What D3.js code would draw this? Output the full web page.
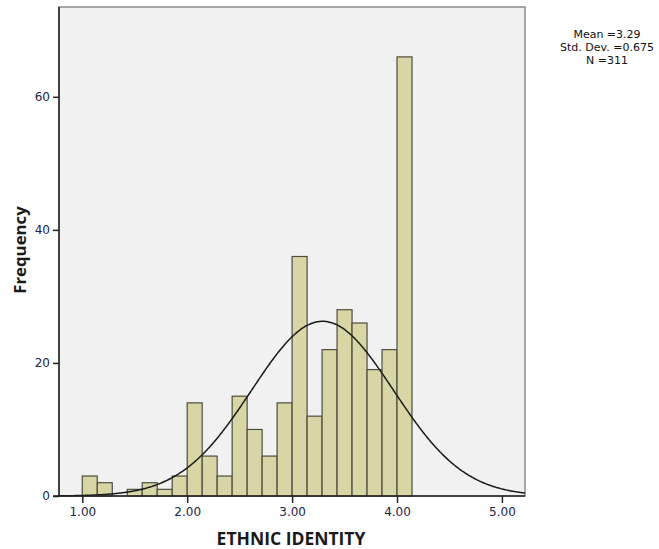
<!DOCTYPE html>
<html>
<head>
<meta charset="utf-8">
<script src="https://cdn.jsdelivr.net/npm/d3@7"></script>
<style>
  body { margin: 0; background: #fff; }
  svg { display: block; font-family: "DejaVu Sans", sans-serif; }
</style>
</head>
<body>
<div id="chartArea"></div>
<script>
// histogram bins: lower edges, width 1/7
let binStart = 1.0
let binWidth = 1 / 7
let counts = [3, 2, 0, 1, 2, 1, 3, 14, 6, 3, 15, 10, 6, 14, 36, 12, 22, 28, 26, 19, 22, 66]
let xTicks = [1, 2, 3, 4, 5]
let yTicks = [0, 20, 40, 60]
let mean = 3.29
let sd = 0.675
let n = 311
let statLines = ['Mean =3.29', 'Std. Dev. =0.675', 'N =311']

let bins = counts.map((c, i) => ({ x0: binStart + i * binWidth, x1: binStart + (i + 1) * binWidth, count: c }))

let svgWidth = 659
let svgHeight = 549
let plot = { left: 59, top: 7, right: 525, bottom: 496 }

let xScale = d3.scaleLinear()
  .domain([0.778, 5.22])
  .range([plot.left, plot.right])

let yScale = d3.scaleLinear()
  .domain([0, 73.5])
  .range([plot.bottom, plot.top])

let svg = d3.select('#chartArea')
  .append('svg')
  .attr('width', svgWidth)
  .attr('height', svgHeight)

// plot background
svg.append('rect')
  .attr('x', plot.left)
  .attr('y', plot.top)
  .attr('width', plot.right - plot.left)
  .attr('height', plot.bottom - plot.top)
  .attr('fill', '#f1f1f1')
  .attr('stroke', '#8a8a8a')
  .attr('stroke-width', 1.5)

// bars
svg.selectAll('rect.bar')
  .data(bins)
  .enter()
  .append('rect')
  .attr('class', 'bar')
  .attr('x', d => xScale(d.x0))
  .attr('y', d => yScale(d.count))
  .attr('width', d => xScale(d.x1) - xScale(d.x0))
  .attr('height', d => yScale(0) - yScale(d.count))
  .attr('fill', '#d9d6a6')
  .attr('stroke', '#4d4d40')
  .attr('stroke-width', 1.2)

// normal curve fitted to the data
let pdf = x => n * binWidth / (sd * Math.sqrt(2 * Math.PI)) * Math.exp(-0.5 * ((x - mean) / sd) ** 2)
let curveX = d3.range(0.778, 5.22, 0.01).concat([5.22])
let line = d3.line()
  .x(d => xScale(d))
  .y(d => yScale(pdf(d)))
  .curve(d3.curveBasis)

svg.append('path')
  .datum(curveX)
  .attr('d', line)
  .attr('fill', 'none')
  .attr('stroke', '#1a1a1a')
  .attr('stroke-width', 1.5)

// axes
let xAxis = svg.append('g')
  .attr('transform', `translate(0,${plot.bottom})`)
  .call(d3.axisBottom(xScale).tickValues(xTicks).tickFormat(d3.format('.2f')).tickSize(7).tickPadding(4))
let yAxis = svg.append('g')
  .attr('transform', `translate(${plot.left},0)`)
  .call(d3.axisLeft(yScale).tickValues(yTicks).tickSize(6).tickPadding(3))

for (let ax of [xAxis, yAxis]) {
  ax.select('.domain').remove()
  ax.selectAll('line').attr('stroke', '#222').attr('stroke-width', 1.5)
  ax.selectAll('text').attr('fill', '#1c2546').style('font-size', '12px').style('font-family', '"DejaVu Sans", sans-serif')
}

// axis lines (left + bottom darker)
svg.append('line')
  .attr('x1', plot.left).attr('x2', plot.left)
  .attr('y1', plot.top).attr('y2', plot.bottom)
  .attr('stroke', '#222').attr('stroke-width', 1.5)
svg.append('line')
  .attr('x1', plot.left - 6).attr('x2', plot.right)
  .attr('y1', plot.bottom).attr('y2', plot.bottom)
  .attr('stroke', '#222').attr('stroke-width', 1.5)

// axis titles
svg.append('text')
  .attr('x', 291)
  .attr('y', 545)
  .attr('text-anchor', 'middle')
  .style('font-family', '"Open Sans", sans-serif')
  .style('font-size', '17.5px')
  .style('font-weight', 'bold')
  .attr('fill', '#1a1a1a')
  .text('ETHNIC IDENTITY')

svg.append('text')
  .attr('transform', 'translate(26,250) rotate(-90)')
  .attr('text-anchor', 'middle')
  .style('font-family', '"Open Sans", sans-serif')
  .style('font-size', '16.8px')
  .style('font-weight', 'bold')
  .attr('fill', '#1a1a1a')
  .text('Frequency')

// stats box
svg.append('g')
  .selectAll('text')
  .data(statLines)
  .enter()
  .append('text')
  .attr('x', 607)
  .attr('y', (d, i) => 38 + i * 13)
  .attr('text-anchor', 'middle')
  .style('font-size', '11px')
  .attr('fill', '#111')
  .text(d => d)
</script>
</body>
</html>
